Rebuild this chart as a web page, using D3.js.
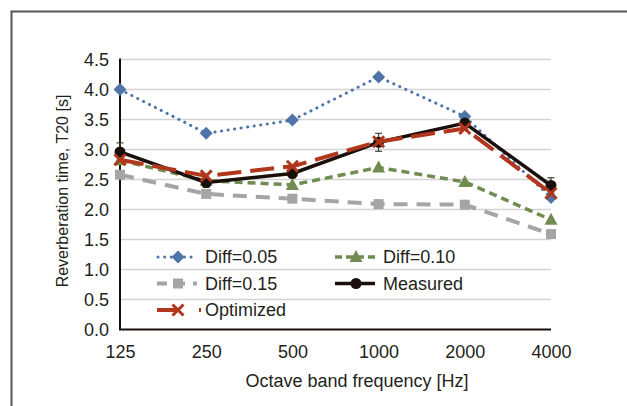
<!DOCTYPE html>
<html>
<head>
<meta charset="utf-8">
<script src="https://cdn.jsdelivr.net/npm/d3@7"></script>
<style>
  body { margin: 0; background: #fff; }
  svg text { font-family: "Liberation Sans", Arial, sans-serif; fill: #231f20; }
</style>
</head>
<body>
<div id="chart"></div>
<script>
    'use strict';

    // dados
    var frequencias = ["125", "250", "500", "1000", "2000", "4000"];
    var diff005 = [4.00, 3.27, 3.49, 4.21, 3.55, 2.20];
    var diff010 = [2.82, 2.48, 2.41, 2.70, 2.46, 1.83];
    var diff015 = [2.58, 2.26, 2.18, 2.09, 2.08, 1.59];
    var medido = [2.96, 2.45, 2.60, 3.12, 3.44, 2.40];
    var medidoErro = [0.15, 0.08, 0.07, 0.15, 0.11, 0.13];
    var otimizado = [2.83, 2.56, 2.72, 3.13, 3.35, 2.27];
    var yTicks = [0, 0.5, 1, 1.5, 2, 2.5, 3, 3.5, 4, 4.5];

    var largura = 627, altura = 406;
    var margem = { left: 120, right: 76, top: 59.5, bottom: 76.5 };

    var svg = d3.select("#chart").append("svg")
        .attr("width", largura)
        .attr("height", altura);

    // moldura externa
    svg.append("path")
        .attr("d", "M11.5," + altura + "V11.5H" + largura)
        .attr("fill", "none")
        .attr("stroke", "#555")
        .attr("stroke-width", 2);

    var x = d3.scalePoint()
        .domain(frequencias)
        .range([margem.left, largura - margem.right]);

    var y = d3.scaleLinear()
        .domain([0, 4.5])
        .range([altura - margem.bottom, margem.top]);

    // grade
    svg.append("g").selectAll("line")
        .data(yTicks.slice(1))
        .enter().append("line")
        .attr("x1", margem.left)
        .attr("x2", largura - margem.right)
        .attr("y1", function(d) { return y(d); })
        .attr("y2", function(d) { return y(d); })
        .attr("stroke", "#d4d4d4")
        .attr("stroke-width", 1.5);

    // eixo y
    var eixoY = svg.append("g")
        .attr("transform", "translate(" + margem.left + ",0)")
        .call(d3.axisLeft(y).tickValues(yTicks).tickSize(0).tickPadding(11)
            .tickFormat(d3.format(".1f")));
    eixoY.select(".domain").remove();
    eixoY.selectAll("text").style("font-size", "18px").attr("fill", "#231f20");

    // eixo x
    var eixoX = svg.append("g")
        .attr("transform", "translate(0," + y(0) + ")")
        .call(d3.axisBottom(x).tickSize(0).tickPadding(16));
    eixoX.select(".domain").remove();
    eixoX.selectAll("text").style("font-size", "18px").attr("fill", "#231f20");

    svg.append("path")
        .attr("d", "M" + margem.left + "," + (margem.top - 1) + "V" + y(0) + "H" + (largura - margem.right))
        .attr("fill", "none")
        .attr("stroke", "#1a0f0a")
        .attr("stroke-width", 2);

    // titulos
    svg.append("text")
        .attr("x", 357)
        .attr("y", 387)
        .attr("text-anchor", "middle")
        .style("font-size", "18px")
        .text("Octave band frequency [Hz]");

    svg.append("text")
        .attr("transform", "translate(68,191) rotate(-90)")
        .attr("text-anchor", "middle")
        .style("font-size", "16px")
        .text("Reverberation time, T20 [s]");

    var series = [
        { nome: "Diff=0.05", valores: diff005, cor: "#4e74a8", larg: 3, dash: "0.1 6.5", cap: "round", marcador: "diamond" },
        { nome: "Diff=0.10", valores: diff010, cor: "#708c50", larg: 3.5, dash: "8 5", cap: "butt", marcador: "triangle" },
        { nome: "Diff=0.15", valores: diff015, cor: "#a5a5a5", larg: 4, dash: "14 9", cap: "butt", marcador: "square" },
        { nome: "Measured", valores: medido, cor: "#1a0f0a", larg: 3.5, dash: null, cap: "butt", marcador: "circle" },
        { nome: "Optimized", valores: otimizado, cor: "#b0361c", larg: 4, dash: "24 9", cap: "butt", marcador: "x" }
    ];

    var linha = d3.line()
        .x(function(d, i) { return x(frequencias[i]); })
        .y(function(d) { return y(d); });

    function desenhaMarcador(g, tipo, cor, px, py) {
        if (tipo === "diamond") {
            g.append("path").attr("d", "M" + px + "," + (py - 6.5) + "l6.5,6.5l-6.5,6.5l-6.5,-6.5z").attr("fill", cor);
        } else if (tipo === "triangle") {
            g.append("path").attr("d", "M" + px + "," + (py - 7) + "l6.5,12h-13z").attr("fill", cor);
        } else if (tipo === "square") {
            g.append("rect").attr("x", px - 5).attr("y", py - 5).attr("width", 10).attr("height", 10).attr("fill", cor);
        } else if (tipo === "circle") {
            g.append("circle").attr("cx", px).attr("cy", py).attr("r", 5.5).attr("fill", cor);
        } else if (tipo === "x") {
            g.append("path").attr("d", "M" + (px - 5.5) + "," + (py - 5.5) + "l11,11M" + (px + 5.5) + "," + (py - 5.5) + "l-11,11")
                .attr("stroke", cor).attr("stroke-width", 3).attr("fill", "none");
        }
    }

    // barras de erro da medicao
    var erros = svg.append("g").attr("stroke", "#4a3f3a").attr("stroke-width", 1.2);
    medido.forEach(function(v, i) {
        var px = x(frequencias[i]);
        var y1 = y(v + medidoErro[i]), y2 = y(v - medidoErro[i]);
        erros.append("line").attr("x1", px).attr("x2", px).attr("y1", y1).attr("y2", y2);
        erros.append("line").attr("x1", px - 3.5).attr("x2", px + 3.5).attr("y1", y1).attr("y2", y1);
        erros.append("line").attr("x1", px - 3.5).attr("x2", px + 3.5).attr("y1", y2).attr("y2", y2);
    });

    series.forEach(function(s) {
        var g = svg.append("g");
        g.append("path")
            .datum(s.valores)
            .attr("d", linha)
            .attr("fill", "none")
            .attr("stroke", s.cor)
            .attr("stroke-width", s.larg)
            .attr("stroke-linecap", s.cap)
            .attr("stroke-linejoin", "round")
            .attr("stroke-dasharray", s.dash);
        s.valores.forEach(function(v, i) {
            desenhaMarcador(g, s.marcador, s.cor, x(frequencias[i]), y(v));
        });
    });

    // legenda
    var posLegenda = [
        { x: 157, y: 257 }, { x: 335, y: 257 },
        { x: 157, y: 283.5 }, { x: 335, y: 283.5 },
        { x: 157, y: 310 }
    ];
    var legenda = svg.append("g");
    series.forEach(function(s, i) {
        var p = posLegenda[i];
        var g = legenda.append("g");
        if (s.marcador === "x") {
            g.append("line").attr("x1", p.x).attr("x2", p.x + 22).attr("y1", p.y).attr("y2", p.y)
                .attr("stroke", s.cor).attr("stroke-width", s.larg);
            g.append("line").attr("x1", p.x + 42).attr("x2", p.x + 44).attr("y1", p.y).attr("y2", p.y)
                .attr("stroke", s.cor).attr("stroke-width", s.larg);
        } else {
            g.append("line").attr("x1", s.cap === "round" ? p.x + 1 : p.x).attr("x2", p.x + 40)
                .attr("y1", p.y).attr("y2", p.y)
                .attr("stroke", s.cor).attr("stroke-width", s.larg)
                .attr("stroke-linecap", s.cap)
                .attr("stroke-dasharray", s.marcador === "triangle" ? "7 4" : (s.marcador === "square" ? "10 8" : s.dash));
        }
        desenhaMarcador(g, s.marcador, s.cor, p.x + 21, p.y);
        g.append("text")
            .attr("x", p.x + 48)
            .attr("y", p.y)
            .attr("dy", "0.35em")
            .style("font-size", "18px")
            .text(s.nome);
    });
</script>
</body>
</html>
